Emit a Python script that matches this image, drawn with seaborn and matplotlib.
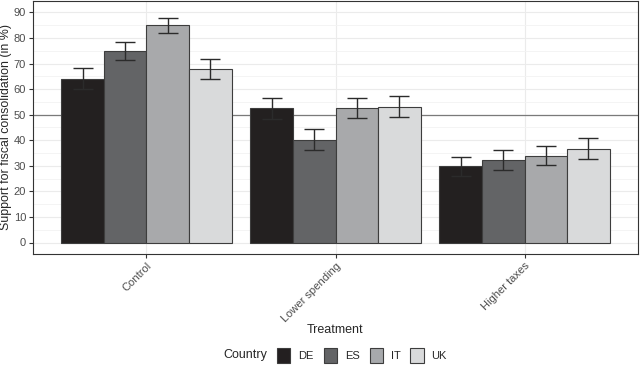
import numpy as np
import pandas as pd
import matplotlib
matplotlib.use("Agg")
import matplotlib.pyplot as plt
from matplotlib.patches import Patch
from matplotlib.ticker import MultipleLocator
import seaborn as sns

treatments = ["Control", "Lower spending", "Higher taxes"]
countries = ["DE", "ES", "IT", "UK"]
support_de = [64.0, 52.5, 29.8]
support_es = [75.0, 40.3, 32.3]
support_it = [85.0, 52.7, 34.0]
support_uk = [68.0, 53.2, 36.7]
ci_de = [4.1, 4.0, 3.8]
ci_es = [3.6, 4.0, 3.9]
ci_it = [3.0, 4.0, 3.8]
ci_uk = [3.9, 4.1, 4.0]

grays = ["#231f20", "#636466", "#a7a9ac", "#d9dadb"]

df = pd.DataFrame({
    "Treatment": treatments * 4,
    "Country": np.repeat(countries, 3),
    "Support": support_de + support_es + support_it + support_uk,
    "CI": ci_de + ci_es + ci_it + ci_uk,
})

sns.set_style("white")
plt.rcParams["font.family"] = ["Liberation Sans", "DejaVu Sans"]

fig = plt.figure(figsize=(6.4, 3.79), dpi=100)
ax = fig.add_axes([33 / 640, 1 - 254 / 379, 605 / 640, 253 / 379])

sns.barplot(data=df, x="Treatment", y="Support", hue="Country", order=treatments,
            hue_order=countries, palette=grays, errorbar=None, width=0.9,
            edgecolor="#3d3d3d", linewidth=0.8, legend=False, ax=ax, zorder=3)

# error bars on top of each bar
for cont, c in zip(ax.containers, countries):
    sub = df[df["Country"] == c].set_index("Treatment").loc[treatments]
    xs = [b.get_x() + b.get_width() / 2 for b in cont]
    ax.errorbar(xs, sub["Support"], yerr=sub["CI"], fmt="none", ecolor="#2b2b2b",
                elinewidth=1.0, capsize=7.5, capthick=1.0, zorder=4)

ax.axhline(50, color="#7a7a7a", lw=0.9, zorder=2)

ax.set_xlim(-0.6, 2.6)
ax.set_ylim(-4.5, 94.5)
ax.yaxis.set_major_locator(MultipleLocator(10))
ax.yaxis.set_minor_locator(MultipleLocator(5))
ax.grid(True, which="major", color="#ebebeb", lw=0.8, zorder=0)
ax.grid(True, which="minor", axis="y", color="#f3f3f3", lw=0.6, zorder=0)
ax.set_axisbelow(True)
for s in ax.spines.values():
    s.set_color("#333333")
    s.set_linewidth(0.8)

ax.tick_params(axis="both", which="major", length=3, color="#333333", labelsize=8,
               labelcolor="#4d4d4d", left=True, bottom=True, pad=2)
ax.tick_params(axis="y", which="minor", length=0)
plt.setp(ax.get_xticklabels(), rotation=45, ha="right", rotation_mode="anchor")
ax.set_xlabel("Treatment", fontsize=9, labelpad=0)
ax.set_ylabel("Support for fiscal consolidation (in %)", fontsize=8.9, labelpad=1)

handles = [Patch(facecolor=g, edgecolor="#3d3d3d", lw=0.8) for g in grays]
fig.legend(handles, countries, loc="center", bbox_to_anchor=(362 / 640, 1 - 355 / 379),
           ncol=4, frameon=False, fontsize=8, handlelength=1.2, handleheight=1.7,
           handletextpad=0.7, columnspacing=0.9)
fig.text(223 / 640, 1 - 355 / 379, "Country", fontsize=9, va="center", ha="left")

fig.savefig("out.png", dpi=100)
